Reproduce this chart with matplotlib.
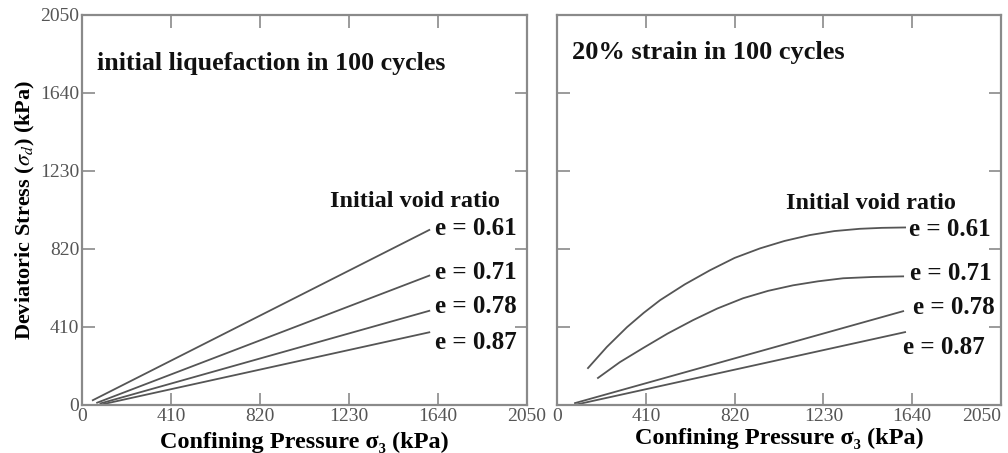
import matplotlib

matplotlib.use("Agg")
import matplotlib.pyplot as plt

plt.rcParams["font.family"] = ["Liberation Serif", "DejaVu Serif"]
plt.rcParams["mathtext.fontset"] = "stix"

# Eixos (kPa)
TICKS = [0, 410, 820, 1230, 1640, 2050]

# Liquefação inicial em 100 ciclos: retas por índice de vazios
LIQ_E = ["0.61", "0.71", "0.78", "0.87"]
LIQ_X = [[50, 1600], [70, 1600], [85, 1600], [100, 1600]]
LIQ_Y = [[25, 920], [12, 680], [8, 495], [5, 382]]

# 20% de deformação em 100 ciclos
STR_E = ["0.61", "0.71", "0.78", "0.87"]
STR_X = [
    [143, 230, 323, 400, 476, 590, 706, 820, 937, 1050, 1167, 1280, 1398,
     1500, 1607],
    [189, 290, 397, 510, 628, 740, 859, 975, 1090, 1205, 1321, 1460, 1598],
    [83, 1598],
    [92, 1607],
]
STR_Y = [
    [194, 305, 409, 484, 551, 634, 708, 773, 823, 862, 893, 914, 926,
     931, 933],
    [142, 225, 299, 375, 446, 507, 561, 600, 629, 650, 666, 673, 676],
    [10, 493],
    [3, 383],
]

GRAY = "#555555"
SPINE = "#8a8a8a"

fig = plt.figure(figsize=(10.08, 4.53), dpi=100)
ax1 = fig.add_axes([0.0813, 0.106, 0.4415, 0.861])
ax2 = fig.add_axes([0.5526, 0.106, 0.4405, 0.861])

for ax in (ax1, ax2):
    ax.set_xlim(0, 2050)
    ax.set_ylim(0, 2050)
    ax.set_xticks(TICKS)
    ax.set_yticks(TICKS)
    ax.tick_params(direction="in", length=9, width=1.2, color=SPINE,
                   top=True, right=True, labelsize=14, labelcolor=GRAY,
                   pad=2)
    for s in ax.spines.values():
        s.set_color(SPINE)
        s.set_linewidth(1.6)

ax1.set_xlabel("Confining Pressure σ₃ (kPa)", fontsize=17.5,
               fontweight="bold", labelpad=5)
ax2.set_xlabel("Confining Pressure σ₃ (kPa)", fontsize=17.5,
               fontweight="bold", labelpad=2)

ax2.set_yticklabels([])
ax2.get_xticklabels()[-1].set_horizontalalignment("right")
ax1.set_ylabel(r"Deviatoric Stress ($\sigma_d$) (kPa)", fontsize=16,
               fontweight="bold", labelpad=2)

for xs, ys in zip(LIQ_X, LIQ_Y):
    ax1.plot(xs, ys, "-", color=GRAY, lw=1.3)
for xs, ys in zip(STR_X, STR_Y):
    ax2.plot(xs, ys, "-", color=GRAY, lw=1.3)

bold = dict(fontweight="bold", color="#111111")
ax1.text(69, 1795, "initial liquefaction in 100 cycles", fontsize=18.7,
         va="center", **bold)
ax2.text(69, 1855, "20% strain in 100 cycles", fontsize=19, va="center",
         **bold)

ax1.text(1142, 1067, "Initial void ratio", fontsize=17.5, va="center", **bold)
ax2.text(1057, 1059, "Initial void ratio", fontsize=17.5, va="center", **bold)

lab_y1 = [925, 694, 515, 331]
for e, yv in zip(LIQ_E, lab_y1):
    ax1.text(1626, yv, f"e = {e}", fontsize=18, va="center", **bold)

lab_x2 = [1625, 1630, 1644, 1597]
lab_y2 = [923, 692, 514, 304]
for e, xv, yv in zip(STR_E, lab_x2, lab_y2):
    ax2.text(xv, yv, f"e = {e}", fontsize=18, va="center", **bold)

fig.savefig("out.png", dpi=100)
plt.close(fig)
